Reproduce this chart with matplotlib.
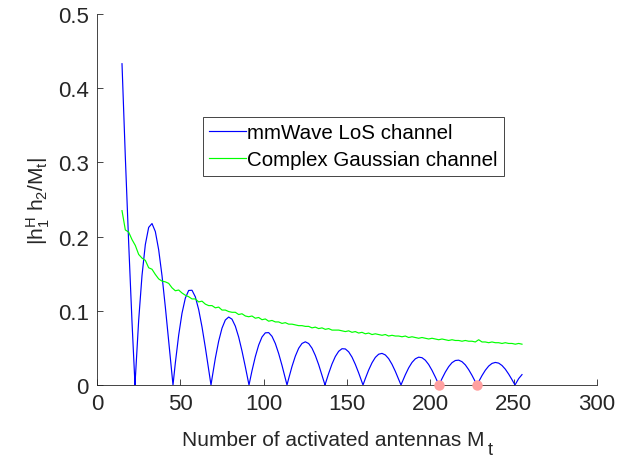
import numpy as np
import matplotlib
matplotlib.use('Agg')
from matplotlib import pyplot as plt

plt.rcParams['font.family'] = ['Liberation Sans', 'DejaVu Sans']
plt.rcParams['mathtext.fontset'] = 'custom'
plt.rcParams['mathtext.rm'] = 'Liberation Sans'
plt.rcParams['mathtext.it'] = 'Liberation Sans:italic'

# number of activated antennas (odd values, 15..255)
M_grid = np.arange(15, 256, 2)

# mmWave LoS channel
los = [0.4330, 0.3071, 0.1916, 0.0851, 0.0087, 0.0871, 0.1475, 0.1893, 0.2124, 0.2176,
       0.2068, 0.1823, 0.1474, 0.1051, 0.0594, 0.0133, 0.0297, 0.0671, 0.0967, 0.1171,
       0.1274, 0.1277, 0.1188, 0.1017, 0.0783, 0.0506, 0.0208, 0.0087, 0.0360, 0.0591,
       0.0766, 0.0876, 0.0916, 0.0887, 0.0793, 0.0646, 0.0458, 0.0245, 0.0022, 0.0192,
       0.0383, 0.0538, 0.0647, 0.0703, 0.0706, 0.0656, 0.0559, 0.0424, 0.0264, 0.0088,
       0.0086, 0.0250, 0.0389, 0.0495, 0.0560, 0.0582, 0.0559, 0.0496, 0.0398, 0.0274,
       0.0132, 0.0015, 0.0156, 0.0283, 0.0384, 0.0454, 0.0489, 0.0486, 0.0447, 0.0376,
       0.0278, 0.0163, 0.0038, 0.0087, 0.0202, 0.0299, 0.0372, 0.0415, 0.0426, 0.0405,
       0.0355, 0.0279, 0.0184, 0.0077, 0.0033, 0.0138, 0.0231, 0.0304, 0.0353, 0.0375,
       0.0368, 0.0334, 0.0276, 0.0198, 0.0107, 0.0010, 0.0086, 0.0174, 0.0247, 0.0301,
       0.0330, 0.0335, 0.0314, 0.0271, 0.0207, 0.0130, 0.0044, 0.0044, 0.0127, 0.0199,
       0.0255, 0.0291, 0.0304, 0.0295, 0.0263, 0.0213, 0.0147, 0.0072, 0.0008, 0.0086,
       0.0140]
# nulls of the LoS curve (where it touches zero)
los_null_M = [22.8, 45.6, 68.4, 91.2, 114.0, 136.8, 159.6, 182.4, 205.2, 228.0, 250.8]

# complex Gaussian channel
gauss = [0.235, 0.209, 0.206, 0.196, 0.188, 0.176, 0.171, 0.168, 0.158, 0.156,
         0.149, 0.143, 0.140, 0.139, 0.137, 0.131, 0.127, 0.128, 0.124, 0.121,
         0.119, 0.116, 0.116, 0.112, 0.113, 0.109, 0.107, 0.107, 0.104, 0.105,
         0.101, 0.101, 0.099, 0.098, 0.098, 0.095, 0.096, 0.093, 0.092, 0.093,
         0.090, 0.091, 0.088, 0.089, 0.086, 0.087, 0.085, 0.085, 0.083, 0.084,
         0.082, 0.082, 0.081, 0.080, 0.080, 0.079, 0.079, 0.077, 0.078, 0.076,
         0.077, 0.075, 0.076, 0.074, 0.074, 0.074, 0.073, 0.072, 0.073, 0.071,
         0.072, 0.070, 0.071, 0.069, 0.070, 0.068, 0.069, 0.068, 0.067, 0.068,
         0.066, 0.067, 0.066, 0.066, 0.065, 0.066, 0.064, 0.065, 0.064, 0.063,
         0.064, 0.063, 0.062, 0.063, 0.062, 0.061, 0.062, 0.061, 0.060, 0.061,
         0.060, 0.060, 0.059, 0.060, 0.059, 0.059, 0.058, 0.061, 0.058, 0.058,
         0.057, 0.058, 0.057, 0.057, 0.056, 0.057, 0.056, 0.056, 0.055, 0.056,
         0.055]

# highlighted points
dot_M = [205.2, 228.0]
dot_val = [0.0, 0.0]

xt = [0, 50, 100, 150, 200, 250, 300]
yt = [0, 0.1, 0.2, 0.3, 0.4, 0.5]

gray = '#262626'

x_los = np.concatenate([M_grid, los_null_M])
y_los = np.concatenate([los, np.zeros(len(los_null_M))])
order = np.argsort(x_los)

fig = plt.figure(figsize=(6.29, 4.60), dpi=100)
ax = fig.add_axes([97/629, 1 - 386/460, 500/629, 371/460])

ax.plot(x_los[order], y_los[order], color='#0000ff', lw=0.85, label='mmWave LoS channel')
ax.plot(M_grid, gauss, color='#00ff00', lw=0.85, label='Complex Gaussian channel')
ax.plot(dot_M, dot_val, 'o', color='#ffa0a0', ms=7.5, mec='none', clip_on=False, zorder=5)

ax.set_xlim(0, 300)
ax.set_ylim(0, 0.5)
ax.set_xticks(xt)
ax.set_yticks(yt)
ax.set_xticklabels([str(v) for v in xt])
ax.set_yticklabels(['0', '0.1', '0.2', '0.3', '0.4', '0.5'])
ax.tick_params(direction='in', length=4, width=0.6, colors=gray, labelsize=16, pad=6)
for s in ['top', 'right']:
    ax.spines[s].set_visible(False)
for s in ['left', 'bottom']:
    ax.spines[s].set_color(gray)
    ax.spines[s].set_linewidth(0.6)

# x label with a lowered subscript, as in the original
fig.text(182/629, 1 - 446/460, 'Number of activated antennas M', fontsize=15, color=gray,
         ha='left', va='baseline')
fig.text(488/629, 1 - 455/460, 't', fontsize=13, color=gray, ha='left', va='baseline')
ax.set_ylabel(r'$\mathregular{|h_1^H\ h_2/M_t|}$', fontsize=15, color=gray, labelpad=4)

leg = ax.legend(loc='upper left', bbox_to_anchor=(203/629, 1 - 118/460), bbox_transform=fig.transFigure,
                borderaxespad=0, fancybox=False, edgecolor=gray, framealpha=1, fontsize=14.8,
                handlelength=1.8, handletextpad=0.05, labelspacing=0.4, borderpad=0.3)
leg.get_frame().set_linewidth(0.6)

plt.savefig('out.png', dpi=100)
